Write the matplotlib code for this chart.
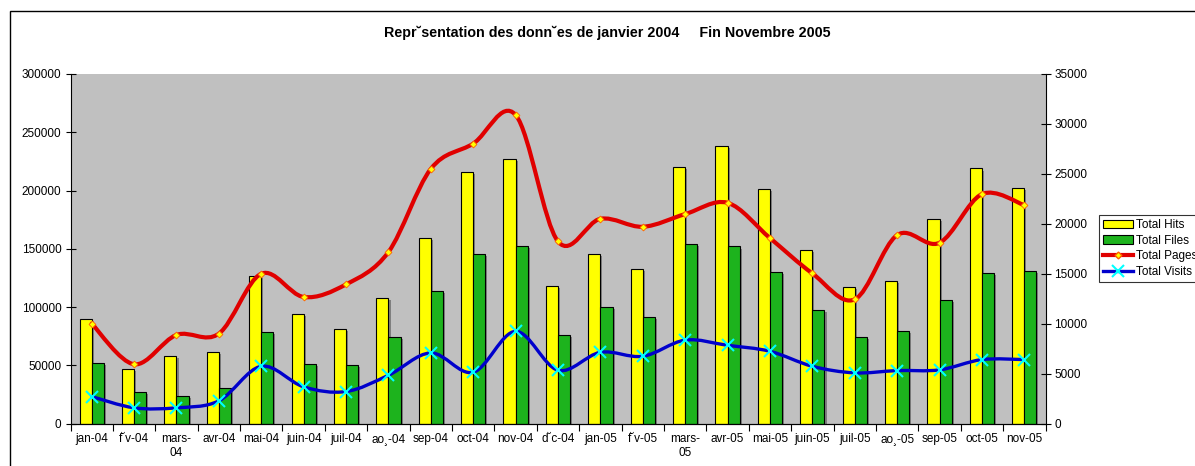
import numpy as np
import matplotlib
matplotlib.use("Agg")
import matplotlib.pyplot as plt
from matplotlib.path import Path
from matplotlib.patches import PathPatch, Patch, Rectangle
from matplotlib.lines import Line2D
import matplotlib.patheffects as pe

months = ["jan-04", "f\u02d8v-04", "mars-\n04", "avr-04", "mai-04", "juin-04", "juil-04",
          "ao\u00b8-04", "sep-04", "oct-04", "nov-04", "d\u02d8c-04", "jan-05", "f\u02d8v-05",
          "mars-\n05", "avr-05", "mai-05", "juin-05", "juil-05", "ao\u00b8-05", "sep-05",
          "oct-05", "nov-05"]
total_hits = [90000, 47100, 58300, 61100, 126300, 94300, 81400, 107700, 159400, 215700,
              226900, 118300, 145700, 132300, 220000, 238600, 201100, 148600, 116900,
              122600, 175400, 218900, 202000]
total_files = [51700, 26800, 23400, 30900, 78300, 51100, 50600, 74600, 114000, 145700,
               152600, 75700, 99700, 91700, 154300, 152000, 129700, 97100, 74000, 79400,
               106000, 129100, 131100]
total_pages = [10000, 5930, 8870, 9000, 15000, 12670, 13930, 17170, 25500, 28030, 30900,
               18230, 20500, 19700, 20970, 22100, 18570, 15030, 12430, 18870, 18100,
               22970, 21870]
total_visits = [2700, 1570, 1570, 2270, 5730, 3670, 3200, 4830, 7070, 5130, 9230, 5330,
                7130, 6730, 8350, 7830, 7230, 5730, 5070, 5300, 5370, 6400, 6400]

plt.rcParams['font.family'] = ['Liberation Sans', 'DejaVu Sans']


def smooth_path(x, y):
    # bezier curve through the points (catmull-rom style, like excel smoothing)
    p = np.column_stack([x, y]).astype(float)
    n = len(p)
    verts = [p[0]]
    codes = [Path.MOVETO]
    for i in range(n - 1):
        p0 = p[max(i - 1, 0)]
        p1 = p[i]
        p2 = p[i + 1]
        p3 = p[min(i + 2, n - 1)]
        verts += [p1 + (p2 - p0) / 6.0, p2 - (p3 - p1) / 6.0, p2]
        codes += [Path.CURVE4] * 3
    return Path(verts, codes)


fig = plt.figure(figsize=(11.95, 4.66), dpi=100)
ax = fig.add_axes([70.5 / 1195, 42.5 / 466, 975 / 1195, 349.5 / 466])
ax.set_facecolor('#C0C0C0')

x = np.arange(len(months))
w = 0.2857
shadow = [pe.SimplePatchShadow(offset=(1.5, -1.5), shadow_rgbFace='#555555', alpha=0.6),
          pe.Normal()]
b1 = ax.bar(x - w / 2, total_hits, w, color='#FFFF00', edgecolor='black', linewidth=0.8,
            zorder=2)
b2 = ax.bar(x + w / 2, total_files, w, color='#1DB31D', edgecolor='black', linewidth=0.8,
            zorder=2)
for b in list(b1) + list(b2):
    b.set_path_effects(shadow)

ax.set_xlim(-0.5, len(months) - 0.5)
ax.set_ylim(0, 300000)
ax.set_yticks(np.arange(0, 300001, 50000))
ax.set_xticks(np.arange(-0.5, len(months), 1.0))
ax.set_xticklabels([])
ax.set_xticks(x, minor=True)
ax.set_xticklabels(months, minor=True, fontsize=8.5)
ax.tick_params(axis='x', which='major', direction='out', length=5, width=0.8)
ax.tick_params(axis='x', which='minor', length=0, pad=7)
ax.tick_params(axis='y', direction='inout', length=7, width=0.8, labelsize=8.5, pad=3)
ax.spines['top'].set_visible(False)
ax.spines['right'].set_visible(False)

ax2 = ax.twinx()
ax2.set_ylim(0, 35000)
ax2.set_yticks(np.arange(0, 35001, 5000))
ax2.tick_params(axis='y', direction='inout', length=7, width=0.8, labelsize=8.5, pad=3)
ax2.spines['top'].set_visible(False)
ax2.spines['left'].set_visible(False)

ax2.add_patch(PathPatch(smooth_path(x, total_pages), facecolor='none', edgecolor='#E00000',
                        linewidth=3, zorder=3, capstyle='round'))
ax2.plot(x, total_pages, linestyle='none', marker='D', markersize=3.5,
         markerfacecolor='#FFFF00', markeredgecolor='#FF6000', markeredgewidth=0.6,
         zorder=4)
ax2.add_patch(PathPatch(smooth_path(x, total_visits), facecolor='none', edgecolor='#0000CC',
                        linewidth=2.4, zorder=3, capstyle='round'))
ax2.plot(x, total_visits, linestyle='none', marker='x', markersize=8,
         markeredgecolor='#00FFFF', markeredgewidth=1.5, zorder=4)

handles = [Patch(facecolor='#FFFF00', edgecolor='black', linewidth=0.8),
           Patch(facecolor='#1DB31D', edgecolor='black', linewidth=0.8),
           Line2D([], [], color='#E00000', linewidth=3, marker='D', markersize=3.5,
                  markerfacecolor='#FFFF00', markeredgecolor='#FF6000'),
           Line2D([], [], color='#0000CC', linewidth=2.4, marker='x', markersize=8,
                  markeredgecolor='#00FFFF', markeredgewidth=1.5)]
leg = fig.legend(handles, ['Total Hits', 'Total Files', 'Total Pages', 'Total Visits'],
                 loc='upper left', bbox_to_anchor=(1099 / 1195, 1 - 215 / 466),
                 bbox_transform=fig.transFigure, fontsize=8.5, frameon=True,
                 fancybox=False, borderaxespad=0, borderpad=0.35, labelspacing=0.3,
                 handlelength=2.5, handletextpad=0.25)
leg.get_frame().set_edgecolor('black')
leg.get_frame().set_linewidth(0.8)

fig.text(607 / 1195, 1 - 33 / 466,
         "Repr\u02d8sentation des donn\u02d8es de janvier 2004     Fin Novembre 2005",
         ha='center', va='center', fontsize=10.3, fontweight='bold')

fig.add_artist(Rectangle((10 / 1195, -0.1), 1.2, 1.1 - 11 / 466, fill=False,
                         edgecolor='black', linewidth=1, transform=fig.transFigure))

fig.savefig('out.png', dpi=100)
